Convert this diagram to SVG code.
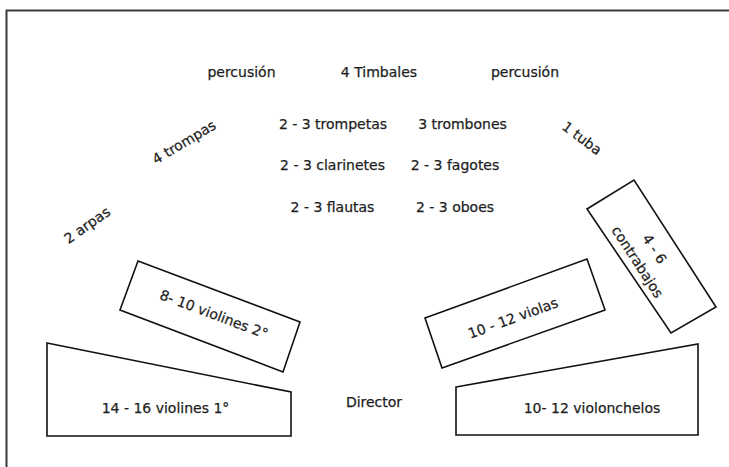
<svg xmlns="http://www.w3.org/2000/svg" width="729" height="467" viewBox="0 0 729 467">
<style>
  .t { font-family: "DejaVu Sans", "Liberation Sans", sans-serif; font-size: 14px; fill: #1e1e1e; stroke: #1e1e1e; stroke-width: 0.25; text-anchor: middle; }
  .box { fill: #ffffff; stroke: #111111; stroke-width: 1.6; stroke-linejoin: miter; }
  .frame { fill: none; stroke: #3a3a3a; stroke-width: 2; }
</style>
<rect width="729" height="467" fill="#ffffff"/>
<path class="frame" d="M6.5 467 V10.5 H729"/>

<g id="percusion-izq"><text class="t" x="241.5" y="77">percusión</text></g>
<g id="timbales"><text class="t" x="379" y="77">4 Timbales</text></g>
<g id="percusion-der"><text class="t" x="525" y="77">percusión</text></g>

<g id="trompetas"><text class="t" x="333" y="129">2 - 3 trompetas</text></g>
<g id="trombones"><text class="t" x="462.5" y="129">3 trombones</text></g>
<g id="clarinetes"><text class="t" x="332.5" y="170">2 - 3 clarinetes</text></g>
<g id="fagotes"><text class="t" x="455" y="170">2 - 3 fagotes</text></g>
<g id="flautas"><text class="t" x="332.5" y="212">2 - 3 flautas</text></g>
<g id="oboes"><text class="t" x="455" y="212">2 - 3 oboes</text></g>

<g id="trompas"><text class="t" transform="translate(184,142) rotate(-31)" x="0" y="5">4 trompas</text></g>
<g id="arpas"><text class="t" transform="translate(87,225) rotate(-35)" x="0" y="5">2 arpas</text></g>
<g id="tuba"><text class="t" transform="translate(582,138) rotate(37)" x="0" y="5">1 tuba</text></g>

<g id="violines2">
  <polygon class="box" points="138,261 300,322 283,372 120,310"/>
  <text class="t" transform="translate(210.5,316.5) rotate(20.6)" x="2.4" y="1.6">8- 10 violines 2°</text>
</g>

<g id="violines1">
  <polygon class="box" points="47,343 291,392 291,436 47,436"/>
  <text class="t" x="165.5" y="413">14 - 16 violines 1°</text>
</g>

<g id="violas">
  <polygon class="box" points="425,318 587,259 605,310 442,368"/>
  <text class="t" transform="translate(515,313.5) rotate(-20)" x="-3.4" y="8.5">10 - 12 violas</text>
</g>

<g id="violonchelos">
  <polygon class="box" points="456,387 698,344 698,435 456,435"/>
  <text class="t" x="592" y="413">10- 12 violonchelos</text>
</g>

<g id="contrabajos">
  <polygon class="box" points="587,209 634,180 716,307 671,333"/>
  <text class="t" transform="translate(646.6,256) rotate(57)">
    <tspan x="0.6" y="-5.6">4 - 6</tspan>
    <tspan x="0" y="15.7">contrabajos</tspan>
  </text>
</g>

<g id="director"><text class="t" x="374" y="407">Director</text></g>
</svg>
